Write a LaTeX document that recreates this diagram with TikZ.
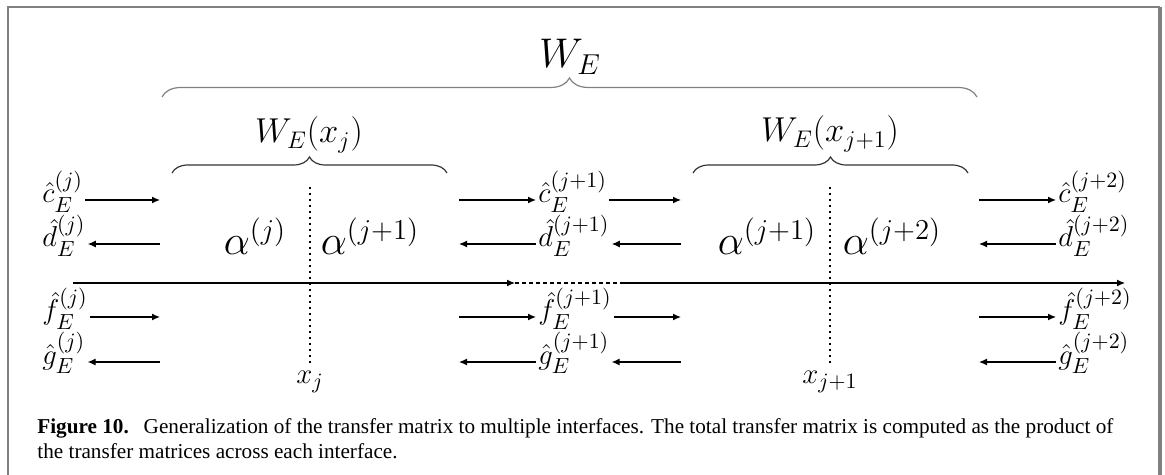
\documentclass[tikz,border=0pt]{standalone}
\usepackage{amsmath,amssymb}
\usepackage{fontspec}
\usepackage{tikz}
\usetikzlibrary{arrows.meta, positioning, decorations.pathreplacing}
\newfontfamily\capfont{Liberation Serif}
\definecolor{framegray}{HTML}{808080}
\tikzset{
    lbl/.style={inner sep=0pt, font=\fontsize{15}{18}\selectfont},
    alphalbl/.style={inner sep=0pt, anchor=base, font=\fontsize{20}{24}\selectfont},
    wlbl/.style={inner sep=0pt, anchor=base, font=\fontsize{18}{22}\selectfont},
    biglbl/.style={inner sep=0pt, anchor=base, font=\fontsize{22}{26}\selectfont},
    xlbl/.style={inner sep=0pt, font=\fontsize{15}{18}\selectfont},
    arrow/.style={-{Latex[length=4pt, width=3.5pt]}, semithick, draw=black, shorten >=1pt, shorten <=1pt},
    wbrace/.style={decorate, decoration={brace, amplitude=8pt}, draw=black!80, semithick},
    bigbrace/.style={decorate, decoration={brace, amplitude=9.5pt}, draw=framegray, semithick},
    iface/.style={line width=1pt, dotted},
    caption/.style={inner sep=0pt, align=left, font=\capfont\fontsize{10.6}{12.8}\selectfont}
}
\begin{document}
\begin{tikzpicture}[x=0.5pt, y=-0.5pt]
    \useasboundingbox (0,0) rectangle (1165,475);
    % frame
    \draw[framegray, line width=0.8pt] (8,475) -- (8,7) -- (1160,7);
    \draw[framegray, line width=2pt] (1160,6.6) -- (1160,475);

    % braces
    \coordinate (WL) at (162,97);
    \coordinate (WR) at (977,97);
    \coordinate (AL) at (172,173);
    \coordinate (AR) at (447,173);
    \coordinate (BL) at (693,173);
    \coordinate (BR) at (968,173);
    \draw[bigbrace] (WL) -- (WR);
    \draw[wbrace] (AL) -- (AR);
    \draw[wbrace] (BL) -- (BR);
    \node[biglbl] (W) at (570,68) {$W_E$};
    \node[wlbl] (WA) at (309,143) {$W_E(x_j)$};
    \node[wlbl] (WB) at (830,142) {$W_E(x_{j+1})$};

    % interfaces
    \coordinate (ifA1) at (310,187);
    \coordinate (ifA2) at (310,363);
    \coordinate (ifB1) at (830,187);
    \coordinate (ifB2) at (830,363);
    \draw[iface] (ifA1) -- (ifA2);
    \draw[iface] (ifB1) -- (ifB2);
    \node[xlbl, below=4pt of ifA2] (xA) {$x_j$};
    \node[xlbl, below=4pt of ifB2] (xB) {$x_{j+1}$};

    \node[alphalbl] (aA1) at (255,255) {$\alpha^{(j)}$};
    \node[alphalbl] (aA2) at (370,255) {$\alpha^{(j+1)}$};
    \node[alphalbl] (aB1) at (767,255) {$\alpha^{(j+1)}$};
    \node[alphalbl] (aB2) at (892,255) {$\alpha^{(j+2)}$};

    % x axis
    \coordinate (ax0) at (73,283);
    \coordinate (ax1) at (515,283);
    \coordinate (ax2) at (622,283);
    \coordinate (ax3) at (1125,283);
    \draw[arrow, shorten <=0pt, shorten >=0pt] (ax0) -- (ax1);
    \draw[semithick, dash pattern=on 2pt off 1.5pt] (ax1) -- (ax2);
    \draw[arrow, shorten <=0pt, shorten >=0pt] (ax2) -- (ax3);

    % amplitudes
    \node[lbl, anchor=base west] (c0) at (42,203) {$\hat{c}_E^{(j)}$};
    \node[lbl, anchor=base west] (d0) at (42,247) {$\hat{d}_E^{(j)}$};
    \node[lbl, anchor=base west] (f0) at (42,320) {$\hat{f}_E^{(j)}$};
    \node[lbl, anchor=base west] (g0) at (42,364) {$\hat{g}_E^{(j)}$};
    \node[lbl, anchor=base west] (c1) at (538,203) {$\hat{c}_E^{(j+1)}$};
    \node[lbl, anchor=base west] (d1) at (538,247) {$\hat{d}_E^{(j+1)}$};
    \node[lbl, anchor=base west] (f1) at (538,320) {$\hat{f}_E^{(j+1)}$};
    \node[lbl, anchor=base west] (g1) at (538,364) {$\hat{g}_E^{(j+1)}$};
    \node[lbl, anchor=base west] (c2) at (1058,203) {$\hat{c}_E^{(j+2)}$};
    \node[lbl, anchor=base west] (d2) at (1058,247) {$\hat{d}_E^{(j+2)}$};
    \node[lbl, anchor=base west] (f2) at (1058,320) {$\hat{f}_E^{(j+2)}$};
    \node[lbl, anchor=base west] (g2) at (1058,364) {$\hat{g}_E^{(j+2)}$};

    \foreach \r/\y in {c/200, d/244, f/317, g/362} {
        \coordinate (\r-a) at (162,\y);
        \coordinate (\r-b) at (457,\y);
        \coordinate (\r-e) at (683,\y);
        \coordinate (\r-h) at (977,\y);
    }
    \draw[arrow] (c0.east |- c-a) -- (c-a);
    \draw[arrow] (d-a) -- (d0.east |- d-a);
    \draw[arrow] (f0.east |- f-a) -- (f-a);
    \draw[arrow] (g-a) -- (g0.east |- g-a);

    \draw[arrow] (c-b) -- (c1.west |- c-b);
    \draw[arrow] (c1.east |- c-e) -- (c-e);
    \draw[arrow] (d1.west |- d-b) -- (d-b);
    \draw[arrow] (d-e) -- (d1.east |- d-e);
    \draw[arrow] (f-b) -- (f1.west |- f-b);
    \draw[arrow] (f1.east |- f-e) -- (f-e);
    \draw[arrow] (g1.west |- g-b) -- (g-b);
    \draw[arrow] (g-e) -- (g1.east |- g-e);

    \draw[arrow] (c-h) -- (c2.west |- c-h);
    \draw[arrow] (d2.west |- d-h) -- (d-h);
    \draw[arrow] (f-h) -- (f2.west |- f-h);
    \draw[arrow] (g2.west |- g-h) -- (g-h);

    % caption
    \node[caption, anchor=north west] (cap) at (37,418) {\textbf{Figure 10.}\hspace{0.7em}Generalization of the transfer matrix to multiple interfaces. The total transfer matrix is computed as the product of\\the transfer matrices across each interface.};
\end{tikzpicture}
\end{document}
